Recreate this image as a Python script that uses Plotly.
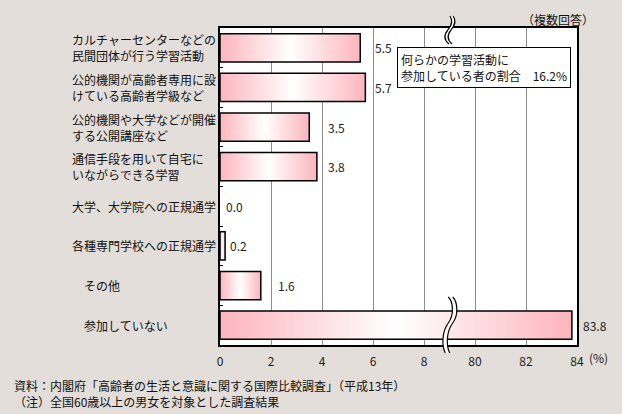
import plotly.graph_objects as go

# ---- data ----
categories = [
    "カルチャーセンターなどの<br>民間団体が行う学習活動",
    "公的機関が高齢者専用に設<br>けている高齢者学級など",
    "公的機関や大学などが開催<br>する公開講座など",
    "通信手段を用いて自宅に<br>いながらできる学習",
    "大学、大学院への正規通学",
    "各種専門学校への正規通学",
    "　その他",
    "　参加していない",
]
values = [5.5, 5.7, 3.5, 3.8, 0.0, 0.2, 1.6, 83.8]
value_labels = ["5.5", "5.7", "3.5", "3.8", "0.0", "0.2", "1.6", "83.8"]
tick_values = [0, 2, 4, 6, 8, 80, 82, 84]
callout_text = "何らかの学習活動に<br>参加している者の割合　16.2%"
note_text = "（複数回答）"
source_lines = [
    "資料：内閣府「高齢者の生活と意識に関する国際比較調査」（平成13年）",
    "（注）全国60歳以上の男女を対象とした調査結果",
]

# ---- style / layout helpers ----
BG = "#E3DED9"
PINK = "#FDB5BD"
FONT = "Noto Sans CJK JP"
label_shift = [13, 8, 17, 9, 4, 3, 15, 9]   # px gap between bar end and value label
BREAK_LOW, BREAK_HIGH = 8, 80                # axis break: values above BREAK_HIGH shifted
BREAK_AT = 9                                 # axis position of the break symbol
BAR_HALF = 0.355

W, H = 622, 414
ML, MR, MT, MB = 220, 45, 28, 69
PW, PH = W - ML - MR, H - MT - MB
XMAX = 14


def to_axis(v):
    return v if v <= BREAK_LOW + 1 else v - (BREAK_HIGH - 10)


px_per_unit = PW / XMAX


def px2x(px):
    return (px - ML) / px_per_unit


def py2paper(py):
    return (H - MB - py) / PH


fig = go.Figure()

for i, v in enumerate(values):
    xv = to_axis(v)
    if v <= 0:
        continue
    fig.add_trace(go.Scatter(
        x=[0, xv, xv, 0, 0],
        y=[i - BAR_HALF, i - BAR_HALF, i + BAR_HALF, i + BAR_HALF, i - BAR_HALF],
        mode="lines", fill="toself",
        fillgradient=dict(type="horizontal",
                          colorscale=[[0, PINK], [0.5, "#FFFFFF"], [1, PINK]]),
        line=dict(color="black", width=1.5),
        hoverinfo="skip", showlegend=False,
    ))

annotations = []
# value labels
for i, (v, t) in enumerate(zip(values, value_labels)):
    annotations.append(dict(
        x=to_axis(v), y=i, xref="x", yref="y", text=t, showarrow=False,
        xanchor="left", yanchor="middle", xshift=label_shift[i],
        font=dict(family=FONT, size=12, color="#222")))
# category labels
for i, c in enumerate(categories):
    annotations.append(dict(
        x=(70 - ML) / PW, y=i, xref="paper", yref="y", text=c, showarrow=False,
        xanchor="left", yanchor="middle", align="left",
        font=dict(family=FONT, size=12, color="#111")))
# callout box
annotations.append(dict(
    x=(397 - ML) / PW, y=py2paper(47), xref="paper", yref="paper",
    text=callout_text, showarrow=False, xanchor="left", yanchor="top", align="left",
    bordercolor="black", borderwidth=1, borderpad=3, bgcolor="white",
    font=dict(family=FONT, size=12, color="#111")))
# (複数回答)
annotations.append(dict(
    x=(520 - ML) / PW, y=py2paper(20), xref="paper", yref="paper", text=note_text,
    showarrow=False, xanchor="left", yanchor="middle",
    font=dict(family=FONT, size=12, color="#111")))
# (%)
annotations.append(dict(
    x=(587 - ML) / PW, y=py2paper(357), xref="paper", yref="paper", text="(%)",
    showarrow=False, xanchor="left", yanchor="middle",
    font=dict(family=FONT, size=12, color="#222")))
# source lines (one block)
annotations.append(dict(
    x=(12 - ML) / PW, y=py2paper(375), xref="paper", yref="paper",
    text="<br>".join(source_lines), showarrow=False, xanchor="left", yanchor="top",
    align="left", font=dict(family=FONT, size=12, color="#111")))


# ---- axis break symbols ----
def curve_path(pts, dx):
    p = lambda x, y: f"{px2x(x + dx):.4f},{py2paper(y):.4f}"
    s = "M" + p(*pts[0])
    for j in range(1, len(pts), 3):
        s += " C" + " ".join(p(*pts[j + k]) for k in range(3))
    return s


def fill_path(pts, hw):
    left = curve_path(pts, -hw)
    rev = pts[::-1]
    right = curve_path(rev, hw)
    return left + " L" + right[1:] + " Z"


bx = ML + BREAK_AT * px_per_unit
bottom_pts = [(bx + 1, 297), (bx + 6, 302), (bx + 7, 315), (bx + 1, 323),
              (bx - 5, 331), (bx - 6, 345), (bx - 2, 353)]
top_pts = [(bx + 2, 16), (bx + 5, 20), (bx + 4, 25), (bx, 30),
           (bx - 4, 35), (bx - 4, 40), (bx + 1, 44)]

shapes = []
for pts, hw, fillc in [(bottom_pts, 2.2, "white"), (top_pts, 1.6, "white")]:
    shapes.append(dict(type="path", xref="x", yref="paper", path=fill_path(pts, hw),
                       fillcolor=fillc, line=dict(width=0), layer="above"))
    for d in (-hw, hw):
        shapes.append(dict(type="path", xref="x", yref="paper", path=curve_path(pts, d),
                           line=dict(color="black", width=1.2), layer="above"))

fig.update_layout(
    width=W, height=H,
    margin=dict(l=ML, r=MR, t=MT, b=MB),
    paper_bgcolor=BG, plot_bgcolor="white",
    showlegend=False,
    annotations=annotations,
    shapes=shapes,
    xaxis=dict(range=[0, XMAX], tickvals=[to_axis(t) for t in tick_values],
               ticktext=[str(t) for t in tick_values],
               showgrid=True, gridcolor="#8C8C8C", gridwidth=1, zeroline=False,
               showline=True, linecolor="black", linewidth=1.5, mirror=True,
               ticks="", ticklabelstandoff=5,
               tickfont=dict(family=FONT, size=12, color="#222"), fixedrange=True),
    yaxis=dict(range=[len(categories) - 0.5, -0.5],
               tickvals=[i + 0.5 for i in range(len(categories) - 1)],
               showticklabels=False, ticks="inside", ticklen=3, tickcolor="black",
               showgrid=False, zeroline=False,
               showline=True, linecolor="black", linewidth=1.5, mirror=True,
               fixedrange=True),
)

fig.write_html("out.html", config={"displayModeBar": False},
               post_script="document.body.style.margin='0';document.body.style.background='" + BG + "';")
